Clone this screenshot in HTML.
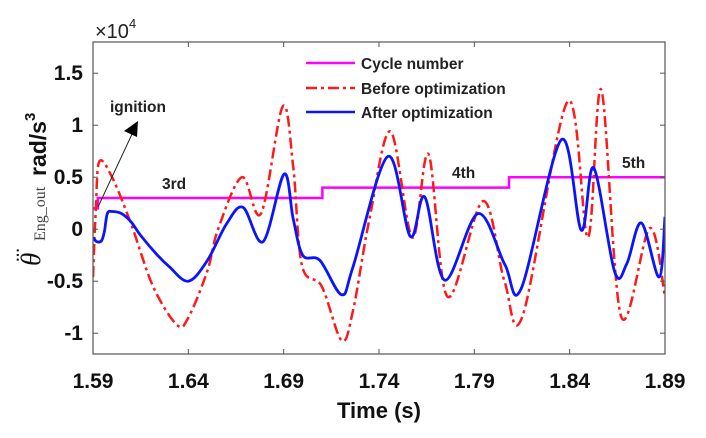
<!DOCTYPE html>
<html><head><meta charset="utf-8">
<style>
html,body{margin:0;padding:0;background:#fff;}
svg{display:block;font-family:"Liberation Sans",Arial,sans-serif;}
</style></head>
<body>
<svg id="chart" width="706" height="438" viewBox="0 0 706 438" xmlns="http://www.w3.org/2000/svg">
<rect width="706" height="438" fill="#fff"/>
<g id="plot"></g>
<g id="axes"></g>
<text x="95" y="38" font-size="20" fill="#222">×10<tspan font-size="13" dy="-10">4</tspan></text>
<text x="379" y="418" font-size="22" font-weight="bold" text-anchor="middle" fill="#111">Time (s)</text>
<g fill="#111">
<text transform="translate(46,176) rotate(-90)" font-size="23" font-weight="bold">rad/s<tspan font-size="15" dy="-11">3</tspan></text>
<text transform="translate(45,241) rotate(-90)" font-family="'Liberation Serif',serif" font-size="16" fill="#444">Eng_out</text>
<text transform="translate(40,266) rotate(-90)" font-family="'Liberation Serif',serif" font-style="italic" font-size="27">θ</text>
<text transform="translate(22,262) rotate(-90)" font-size="14" font-weight="bold">⋯</text>
</g>
<g font-size="15.5" font-weight="bold" fill="#222">
<line x1="306" y1="63" x2="355" y2="63" stroke="#ff00ff" stroke-width="2.5"/>
<text x="361" y="69">Cycle number</text>
<line x1="306" y1="88" x2="355" y2="88" stroke="#ff1a1a" stroke-width="2.5" stroke-dasharray="11,4,3,4"/>
<text x="361" y="94">Before optimization</text>
<line x1="306" y1="112" x2="355" y2="112" stroke="#0a14ff" stroke-width="2.5"/>
<text x="361" y="118">After optimization</text>
</g>
<text x="162" y="189" font-size="15.5" font-weight="bold" fill="#222">3rd</text>
<text x="452" y="178" font-size="15.5" font-weight="bold" fill="#222">4th</text>
<text x="622" y="168" font-size="15.5" font-weight="bold" fill="#222">5th</text>
<text x="110" y="112" font-size="15.5" font-weight="bold" fill="#222">ignition</text>
<g>
<line x1="98" y1="207" x2="133" y2="132" stroke="#222" stroke-width="1"/>
<polygon points="138,121 124,131 137,137" fill="#000"/>
</g>
</svg>
<script>
const xTicks=[1.59,1.64,1.69,1.74,1.79,1.84,1.89];
const yTicks=[-1,-0.5,0,0.5,1,1.5];
const yTickLabels=["-1","-0.5","0","0.5","1","1.5"];
const beforeT=[1.59,1.5915,1.5933,1.60,1.61,1.6215,1.634,1.64,1.65,1.6556,1.6681,1.6781,1.6895,1.695,1.6996,1.71,1.7204,1.7264,1.735,1.746,1.7575,1.766,1.776,1.7945,1.8058,1.8154,1.839,1.8496,1.8566,1.867,1.882,1.89];
const beforeV=[-0.46,0.2,0.65,0.5,0.05,-0.55,-0.92,-0.85,-0.4,0.0,0.5,0.15,1.18,0.6,-0.35,-0.55,-1.07,-0.78,0.1,0.94,-0.08,0.72,-0.65,0.27,-0.5,-0.83,1.23,-0.08,1.34,-0.84,0.01,-0.65];
const afterT=[1.59,1.592,1.5945,1.596,1.5975,1.60,1.605,1.61,1.615,1.6238,1.63,1.64,1.65,1.66,1.6687,1.6792,1.6902,1.695,1.70,1.709,1.7204,1.7264,1.7447,1.7564,1.764,1.7745,1.7919,1.806,1.8146,1.8356,1.8461,1.8526,1.8636,1.87,1.8776,1.8869,1.89];
const afterV=[-0.08,-0.12,-0.11,-0.02,0.15,0.17,0.15,0.07,-0.06,-0.25,-0.36,-0.5,-0.3,0.05,0.21,-0.12,0.53,0.1,-0.25,-0.3,-0.63,-0.36,0.7,-0.07,0.31,-0.49,0.15,-0.34,-0.57,0.86,-0.01,0.59,-0.41,-0.33,0.06,-0.46,0.12];
const cycleT=[1.59,1.5925,1.7103,1.8082,1.89];
const cycleV=[0.2,0.3,0.4,0.5,0.5];

const L=93,R=665,T=42,B=354,X0=1.59,X1=1.89,Y0=-1.2,Y1=1.8;
const sx=t=>L+(t-X0)/(X1-X0)*(R-L);
const sy=v=>B-(v-Y0)/(Y1-Y0)*(B-T);
const NS="http://www.w3.org/2000/svg";
function mk(tag,attrs,parent){const e=document.createElementNS(NS,tag);for(const k in attrs)e.setAttribute(k,attrs[k]);parent.appendChild(e);return e;}
function smooth(ts,vs){
  const p=ts.map((t,i)=>[sx(t),sy(vs[i])]);
  let d="M"+p[0][0].toFixed(2)+","+p[0][1].toFixed(2);
  for(let i=0;i<p.length-1;i++){
    const p0=p[Math.max(0,i-1)],p1=p[i],p2=p[i+1],p3=p[Math.min(p.length-1,i+2)];
    const c1=[p1[0]+(p2[0]-p0[0])/6,p1[1]+(p2[1]-p0[1])/6];
    const c2=[p2[0]-(p3[0]-p1[0])/6,p2[1]-(p3[1]-p1[1])/6];
    c1[0]=Math.min(Math.max(c1[0],p1[0]),p2[0]);c2[0]=Math.min(Math.max(c2[0],p1[0]),p2[0]);
    d+=" C"+c1.map(n=>n.toFixed(2)).join(",")+" "+c2.map(n=>n.toFixed(2)).join(",")+" "+p2.map(n=>n.toFixed(2)).join(",");
  }
  return d;
}
const plot=document.getElementById('plot');
const axes=document.getElementById('axes');
const defs=mk('defs',{},plot);
const cp=mk('clipPath',{id:'clip'},defs);
mk('rect',{x:L,y:T,width:R-L,height:B-T},cp);
const g=mk('g',{'clip-path':'url(#clip)'},plot);
let sd="M"+sx(cycleT[0])+","+sy(cycleV[0]);
for(let i=1;i<cycleT.length;i++){sd+=" H"+sx(cycleT[i])+" V"+sy(cycleV[i]);}
const cyc=mk('path',{d:sd,fill:'none',stroke:'#ff00ff','stroke-width':2.5},g);


const bef=mk('path',{d:smooth(beforeT,beforeV),fill:'none',stroke:'#ff1a1a','stroke-width':2.5,'stroke-dasharray':'11,4,3,4'},g);


const aft=mk('path',{d:smooth(afterT,afterV),fill:'none',stroke:'#0a14ff','stroke-width':2.8},g);


const fr=mk('rect',{x:L,y:T,width:R-L,height:B-T,fill:'none',stroke:'#555','stroke-width':1.2},axes);


xTicks.forEach(t=>{
  const x=sx(t);
  mk('line',{x1:x,y1:B,x2:x,y2:B-5,stroke:'#555'},axes);
  mk('line',{x1:x,y1:T,x2:x,y2:T+5,stroke:'#555'},axes);
  const lb=mk('text',{x:x,y:388,'font-size':21,'font-weight':'bold','text-anchor':'middle',fill:'#111'},axes);
  lb.textContent=t.toFixed(2);
  
  
});
yTicks.forEach((v,i)=>{
  const y=sy(v);
  mk('line',{x1:L,y1:y,x2:L+5,y2:y,stroke:'#555'},axes);
  mk('line',{x1:R,y1:y,x2:R-5,y2:y,stroke:'#555'},axes);
  const lb=mk('text',{x:83,y:y+7,'font-size':21,'font-weight':'bold','text-anchor':'end',fill:'#111'},axes);
  lb.textContent=yTickLabels[i];
  
  
});
</script>
</body></html>
